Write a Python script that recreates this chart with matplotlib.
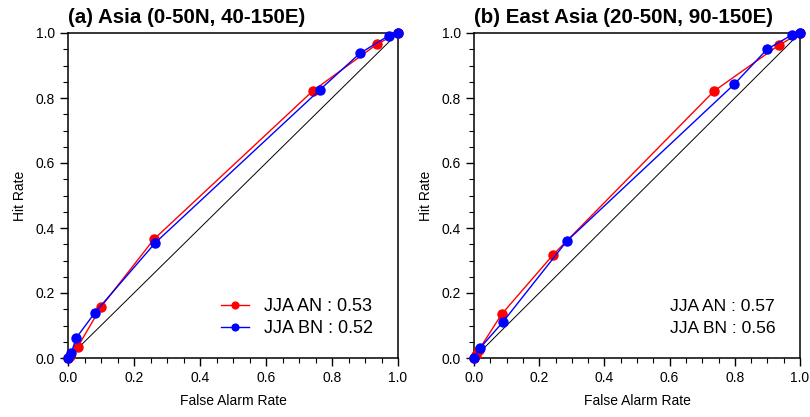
import matplotlib
matplotlib.use("Agg")
import matplotlib.pyplot as plt
from matplotlib.ticker import MultipleLocator

plt.rcParams['font.family'] = ['Liberation Sans', 'DejaVu Sans']

titles = ["(a) Asia (0-50N, 40-150E)", "(b) East Asia (20-50N, 90-150E)"]

# Panel (a)
a_an_far = [0.0, 0.005, 0.03, 0.10, 0.26, 0.742, 0.937, 1.0]
a_an_hr  = [0.0, 0.005, 0.035, 0.157, 0.365, 0.822, 0.966, 1.0]
a_bn_far = [0.0, 0.01, 0.025, 0.082, 0.265, 0.764, 0.884, 0.972, 1.0]
a_bn_hr  = [0.0, 0.016, 0.062, 0.14, 0.355, 0.826, 0.937, 0.992, 1.0]

# Panel (b)
b_an_far = [0.0, 0.005, 0.015, 0.085, 0.243, 0.736, 0.936, 1.0]
b_an_hr  = [0.0, 0.01, 0.025, 0.135, 0.318, 0.821, 0.963, 1.0]
b_bn_far = [0.0, 0.018, 0.088, 0.285, 0.798, 0.899, 0.975, 1.0]
b_bn_hr  = [0.0, 0.03, 0.11, 0.36, 0.842, 0.95, 0.994, 1.0]

labels_a = ["JJA AN : 0.53", "JJA BN : 0.52"]
labels_b = ["JJA AN : 0.57", "JJA BN : 0.56"]

tick_vals = [0.0, 0.2, 0.4, 0.6, 0.8, 1.0]
tick_labels = ["0.0", "0.2", "0.4", "0.6", "0.8", "1.0"]

fig = plt.figure(figsize=(8.1, 4.17), dpi=100)
ax1 = fig.add_axes([68/810, 59/417, 330/810, 325/417])
ax2 = fig.add_axes([474/810, 59/417, 326/810, 325/417])

def style(ax, title):
    ax.set_xlim(0, 1)
    ax.set_ylim(0, 1)
    ax.plot([0, 1], [0, 1], color='black', lw=0.7, zorder=1)
    ax.set_xticks(tick_vals)
    ax.set_xticklabels(tick_labels)
    ax.set_yticks(tick_vals)
    ax.set_yticklabels(tick_labels)
    ax.xaxis.set_minor_locator(MultipleLocator(0.05))
    ax.yaxis.set_minor_locator(MultipleLocator(0.05))
    ax.tick_params(which='major', direction='out', length=6, width=1, labelsize=10)
    ax.tick_params(which='minor', direction='out', length=3.5, width=0.8)
    for s in ax.spines.values():
        s.set_linewidth(1.1)
    ax.set_xlabel("False Alarm Rate", fontsize=10, labelpad=6)
    ax.set_ylabel("Hit Rate", fontsize=10, labelpad=6)
    ax.set_title(title, loc='left', fontsize=14.8, fontweight='bold', pad=7)

style(ax1, titles[0])
style(ax2, titles[1])

l1, = ax1.plot(a_an_far, a_an_hr, color='red', lw=1, marker='o', ms=6.5, zorder=3, clip_on=False, label=labels_a[0])
l2, = ax1.plot(a_bn_far, a_bn_hr, color='blue', lw=1, marker='o', ms=6.5, zorder=3, clip_on=False, label=labels_a[1])
leg = ax1.legend(handles=[l1, l2], loc='upper left', bbox_to_anchor=(0.464, 0.185), frameon=False,
                 borderpad=0, borderaxespad=0,
                 fontsize=13, handlelength=1.55, markerscale=0.75, labelspacing=0.3, handletextpad=0.8)

ax2.plot(b_an_far, b_an_hr, color='red', lw=1, marker='o', ms=6.5, zorder=3, clip_on=False)
ax2.plot(b_bn_far, b_bn_hr, color='blue', lw=1, marker='o', ms=6.5, zorder=3, clip_on=False)
ax2.text(0.601, 0.158, labels_b[0], transform=ax2.transAxes, fontsize=12.6, va='center', ha='left')
ax2.text(0.601, 0.090, labels_b[1], transform=ax2.transAxes, fontsize=12.6, va='center', ha='left')

fig.savefig("out.png", dpi=100)
